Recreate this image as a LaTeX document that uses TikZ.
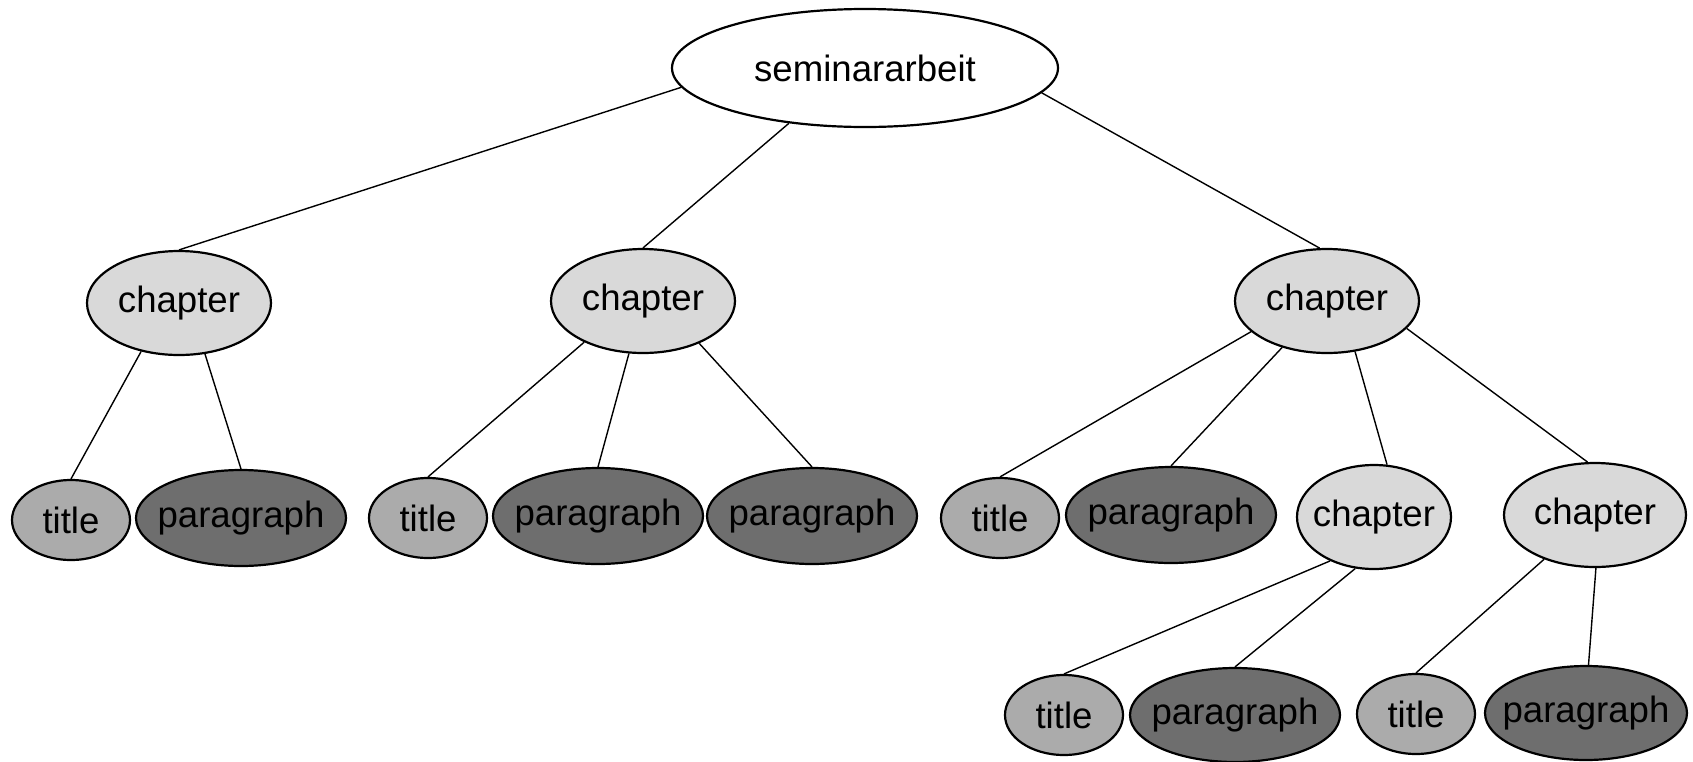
\documentclass[tikz,border=0pt]{standalone}
\usepackage{fontspec}
\setmainfont{Liberation Sans}
\usetikzlibrary{shapes.geometric}
\definecolor{chapgray}{HTML}{D9D9D9}
\definecolor{titlegray}{HTML}{ABABAB}
\definecolor{paragray}{HTML}{6E6E6E}
\begin{document}
\begin{tikzpicture}[x=0.5pt, y=-0.5pt]
\tikzset{every node/.style={ellipse, draw, line width=1.1pt, inner ysep=0pt, inner xsep=-10pt, font=\fontsize{18.3}{22}\selectfont}}
\tikzset{seminarnode/.style={fill=white, minimum width=193pt, minimum height=59pt}}
\tikzset{chapnode/.style={fill=chapgray, minimum width=92pt, minimum height=52pt}}
\tikzset{titlenode/.style={fill=titlegray, minimum width=59pt, minimum height=40pt}}
\tikzset{paranode/.style={fill=paragray, minimum width=105pt, minimum height=48pt}}
\tikzset{edge/.style={line width=0.7pt}}
\useasboundingbox (0,0) rectangle (1693,761);
% top level
\node[seminarnode] (seminar) at (865,68) {seminararbeit};
\node[chapnode] (chap1) at (179,303) {chapter};
\node[chapnode] (chap2) at (643,301) {chapter};
\node[chapnode] (chap3) at (1327,301) {chapter};
% second row
\node[titlenode] (title1) at (71,520) {title};
\node[paranode] (para1) at (241,518) {paragraph};
\node[titlenode] (title2) at (428,518) {title};
\node[paranode] (para2) at (598,516) {paragraph};
\node[paranode] (para3) at (812,516) {paragraph};
\node[titlenode] (title3) at (1000,518) {title};
\node[paranode] (para4) at (1171,515) {paragraph};
\node[chapnode, minimum width=77pt] (chap4) at (1374,517) {chapter};
\node[chapnode, minimum width=91pt] (chap5) at (1595,515) {chapter};
% third row
\node[titlenode] (title4) at (1064,715) {title};
\node[paranode, minimum height=47pt] (para5) at (1235,715) {paragraph};
\node[titlenode] (title5) at (1416,714) {title};
\node[paranode, minimum width=101pt, minimum height=47pt] (para6) at (1586,713) {paragraph};
% edges
\draw[edge] (seminar.186) -- (chap1.north);
\draw[edge] (seminar.216) -- (chap2.north);
\draw[edge] (seminar.352) -- (chap3.98);
\draw[edge] (chap1.232) -- (title1.north);
\draw[edge] (chap1.297) -- (para1.north);
\draw[edge] (chap2.215) -- (title2.north);
\draw[edge] (chap2.255) -- (para2.north);
\draw[edge] (chap2.323) -- (para3.north);
\draw[edge] (chap3.202) -- (title3.north);
\draw[edge] (chap3.226) -- (para4.north);
\draw[edge] (chap3.299) -- (chap4.76);
\draw[edge] (chap3.341) -- (chap5.98);
\draw[edge] (chap4.225) -- (title4.north);
\draw[edge] (chap4.250) -- (para5.north);
\draw[edge] (chap5.221) -- (title5.north);
\draw[edge] (chap5.271) -- (para6.87);
\end{tikzpicture}
\end{document}
